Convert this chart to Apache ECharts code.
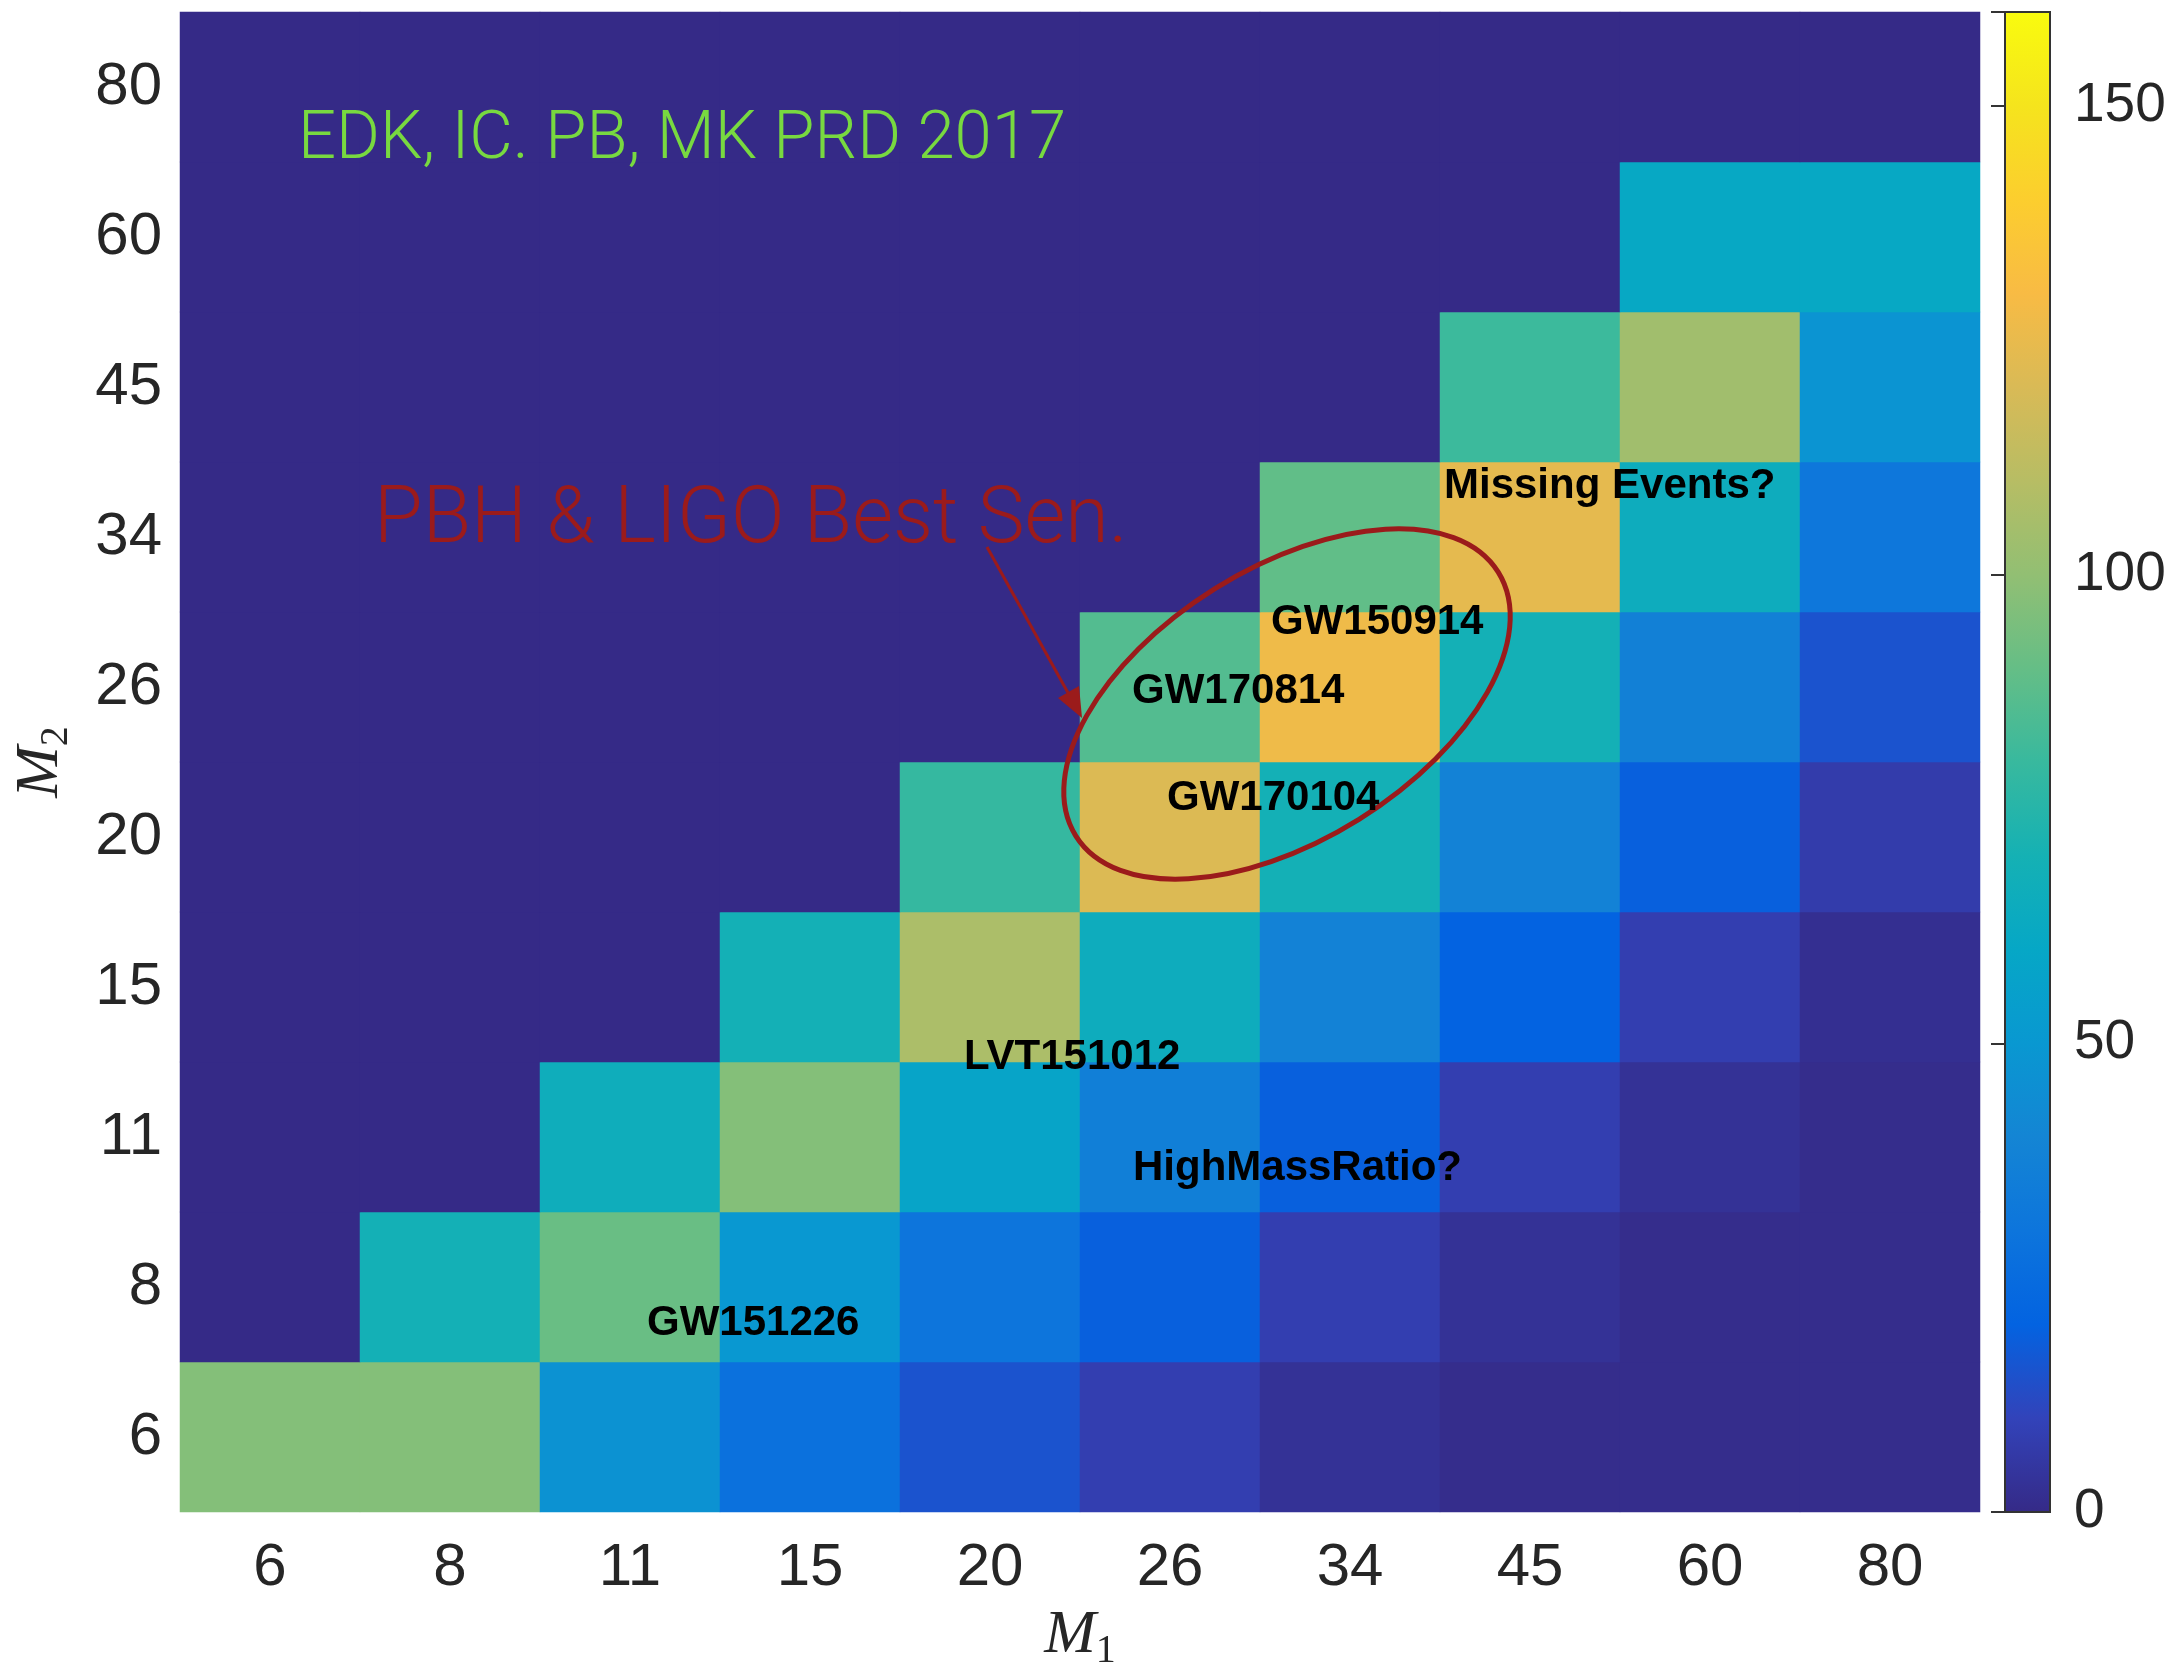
<!DOCTYPE html>
<html>
<head>
<meta charset="utf-8">
<style>
  html, body { margin: 0; padding: 0; background: #fff; }
  #main { width: 2171px; height: 1668px; }
</style>
<script src="https://cdn.jsdelivr.net/npm/echarts@6/dist/echarts.min.js"></script>
</head>
<body>
<div id="main"></div>
<script>
// M1 along x, M2 along y (bottom -> top)
var m1Labels = ['6', '8', '11', '15', '20', '26', '34', '45', '60', '80'];
var m2Labels = ['6', '8', '11', '15', '20', '26', '34', '45', '60', '80'];

// one row per M2 value
var rowM2_6  = [97, 97, 47, 28, 15, 8, 3, 1, 1, 1];
var rowM2_8  = [0, 69, 91, 50, 30, 19, 8, 3, 1, 1];
var rowM2_11 = [0, 0, 66, 97, 58, 36, 19, 8, 3, 1];
var rowM2_15 = [0, 0, 0, 69, 107, 65, 38, 20, 8, 2];
var rowM2_20 = [0, 0, 0, 0, 79, 121, 69, 38, 19, 7];
var rowM2_26 = [0, 0, 0, 0, 0, 86, 127, 69, 37, 15];
var rowM2_34 = [0, 0, 0, 0, 0, 0, 89, 124, 65, 31];
var rowM2_45 = [0, 0, 0, 0, 0, 0, 0, 81, 104, 48];
var rowM2_60 = [0, 0, 0, 0, 0, 0, 0, 0, 61, 61];
var rowM2_80 = [0, 0, 0, 0, 0, 0, 0, 0, 0, 0];

var colorbarTicks = [0, 50, 100, 150];
var colorMax = 160;

// parula
var parula = ['#352a87', '#3243ba', '#0363e1', '#0d75dc', '#1485d4', '#0998d1',
    '#06a7c6', '#15b1b4', '#38b99e', '#65be86', '#92bf73', '#b7bd64',
    '#d9ba56', '#f8bb44', '#fcce2e', '#f5e41d', '#f9fb0e'];

var rows = [rowM2_6, rowM2_8, rowM2_11, rowM2_15, rowM2_20, rowM2_26, rowM2_34, rowM2_45, rowM2_60, rowM2_80];
var heatData = [];
for (var j = 0; j < rows.length; j++) {
    for (var i = 0; i < rows[j].length; i++) {
        heatData.push([i, j, rows[j][i]]);
    }
}

var red = '#9b1b1b';
var tickFont = 'Liberation Sans';
var plotTop = 12, plotH = 1500;
var cbLeft = 2005, cbW = 45;

function evLabel(txt, x, y) {
    return {
        type: 'text', z: 20,
        style: {
            text: txt, x: x, y: y,
            font: 'bold 42px "Liberation Sans"',
            fill: '#000', textAlign: 'left', textVerticalAlign: 'middle'
        }
    };
}

// colorbar gradient, bottom (0) -> top (max)
var cbStops = [];
for (var k = 0; k < parula.length; k++) {
    cbStops.push({ offset: 1 - k / (parula.length - 1), color: parula[k] });
}

var nameRich = {
    m: { fontFamily: 'Liberation Serif', fontStyle: 'italic', fontSize: 62, lineHeight: 70, color: '#262626' },
    s: { fontFamily: 'Liberation Serif', fontSize: 40, lineHeight: 40, verticalAlign: 'bottom', color: '#262626' }
};

var myChart = echarts.init(document.getElementById('main'));
var option = {
    backgroundColor: '#fff',
    animation: false,
    grid: [
        { left: 180, top: plotTop, width: 1800, height: plotH, outerBoundsMode: 'none', containLabel: false },
        { left: cbLeft, top: plotTop, width: cbW, height: plotH, show: true, borderColor: '#333', borderWidth: 2,
          backgroundColor: 'transparent', z: 10, outerBoundsMode: 'none', containLabel: false }
    ],
    xAxis: [
        {
            type: 'category', gridIndex: 0, data: m1Labels,
            axisLine: { show: false }, axisTick: { show: false },
            axisLabel: { fontFamily: tickFont, fontSize: 60, color: '#262626', margin: 26 },
            name: '{m|M}{s|1}', nameLocation: 'middle', nameGap: 89,
            nameTextStyle: { rich: nameRich }
        },
        { type: 'value', gridIndex: 1, show: false, min: 0, max: 1 }
    ],
    yAxis: [
        {
            type: 'category', gridIndex: 0, data: m2Labels,
            axisLine: { show: false }, axisTick: { show: false },
            axisLabel: { fontFamily: tickFont, fontSize: 60, color: '#262626', margin: 18 },
            name: '{m|M}{s|2}', nameLocation: 'middle', nameGap: 104,
            nameTextStyle: { rich: nameRich }
        },
        {
            type: 'value', gridIndex: 1, position: 'right', min: 0, max: colorMax, interval: 50, z: 10,
            axisLine: { show: false },
            axisTick: { show: true, inside: true, length: 14, lineStyle: { color: '#333', width: 2 } },
            splitLine: { show: false },
            axisLabel: { fontFamily: tickFont, fontSize: 55, color: '#262626', margin: 24,
                formatter: function (v) { return colorbarTicks.indexOf(v) >= 0 ? String(v) : ''; } }
        }
    ],
    visualMap: {
        type: 'continuous', min: 0, max: colorMax, seriesIndex: 0, show: false,
        inRange: { color: parula }
    },
    series: [{
        type: 'heatmap', xAxisIndex: 0, yAxisIndex: 0,
        data: heatData,
        itemStyle: { borderWidth: 0 },
        emphasis: { disabled: true }
    }],
    graphic: [
        {
            type: 'rect', z: 1,
            shape: { x: cbLeft, y: plotTop, width: cbW, height: plotH },
            style: { fill: new echarts.graphic.LinearGradient(0, 0, 0, 1, cbStops) }
        },
        {
            type: 'text', z: 20,
            style: { text: 'EDK, IC. PB, MK PRD 2017', x: 298, y: 141,
                font: '300 67px Roboto', fill: '#78d940', textAlign: 'left', textVerticalAlign: 'middle' }
        },
        {
            type: 'text', z: 20,
            style: { text: 'PBH & LIGO Best Sen.', x: 374, y: 522,
                font: '300 79px Roboto', fill: red, textAlign: 'left', textVerticalAlign: 'middle' }
        },
        {
            type: 'line', z: 20,
            shape: { x1: 987, y1: 547, x2: 1072, y2: 700 },
            style: { stroke: red, lineWidth: 3 }
        },
        {
            type: 'polygon', z: 20,
            shape: { points: [[1082, 718], [1058, 698], [1079, 686]] },
            style: { fill: red }
        },
        {
            type: 'ellipse', z: 20,
            x: 1287, y: 704, rotation: 0.558,
            shape: { cx: 0, cy: 0, rx: 249, ry: 136 },
            style: { fill: null, stroke: red, lineWidth: 5 }
        },
        evLabel('Missing Events?', 1444, 486),
        evLabel('GW150914', 1271, 622),
        evLabel('GW170814', 1132, 691),
        evLabel('GW170104', 1167, 798),
        evLabel('LVT151012', 964, 1057),
        evLabel('HighMassRatio?', 1133, 1168),
        evLabel('GW151226', 647, 1323)
    ]
};
myChart.setOption(option);
</script>
</body>
</html>
